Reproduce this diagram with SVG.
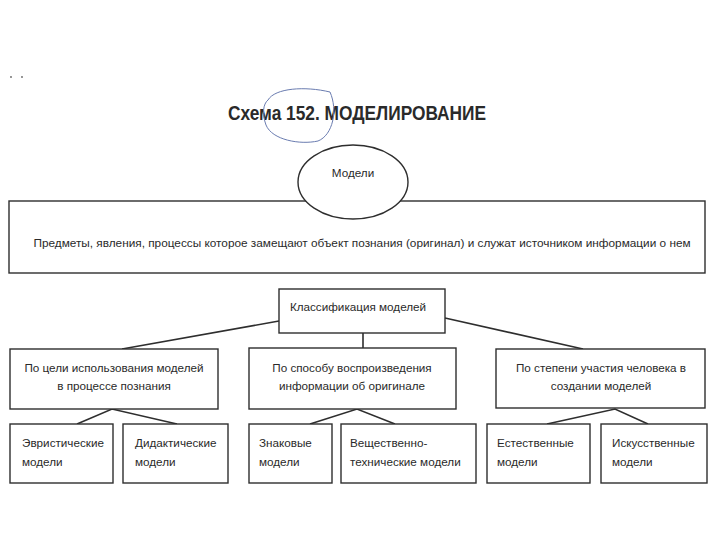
<svg xmlns="http://www.w3.org/2000/svg" width="720" height="540" viewBox="0 0 720 540">
  <style>
    .box { fill: #ffffff; stroke: #2e2e2e; stroke-width: 1.4; }
    .ell { fill: #ffffff; stroke: #2e2e2e; stroke-width: 1.4; }
    .t { font-family: "Liberation Sans", Arial, sans-serif; font-size: 11.7px; fill: #2a2a2a; }
    .c { text-anchor: middle; }
    .title { font-family: "Liberation Sans", Arial, sans-serif; font-size: 20px; font-weight: bold; fill: #2a2a2a; text-anchor: middle; }
    .conn { fill: none; stroke: #2e2e2e; stroke-width: 1.6; }
  </style>
  <rect width="720" height="540" fill="#ffffff"/>

  <g id="marks">
    <circle cx="11" cy="77" r="0.9" fill="#666"/>
    <circle cx="22" cy="77" r="0.9" fill="#666"/>
  </g>

  <g id="title">
    <text class="title" x="357" y="120" textLength="258" lengthAdjust="spacingAndGlyphs">Схема 152. МОДЕЛИРОВАНИЕ</text>
    <path d="M268 100 C275 88 305 86 330 92 C338 110 333 135 318 141 C300 145 272 140 266 125 C262 114 263 104 268 100" fill="none" stroke="#6a7cb0" stroke-width="1"/>
  </g>

  <g id="connectors">
    <line class="conn" x1="279" y1="321" x2="122" y2="349"/>
    <line class="conn" x1="363" y1="333" x2="363" y2="348"/>
    <line class="conn" x1="445" y1="318" x2="583" y2="349"/>
    <polyline class="conn" points="77,424 112,409 177,424"/>
    <polyline class="conn" points="310,424 357,409 395,424"/>
    <polyline class="conn" points="547,424 615,409 648,424"/>
  </g>

  <g id="definition">
    <rect class="box" x="9" y="201" width="696" height="72"/>
    <text class="t c" x="362" y="247" style="font-size:11.8px">Предметы, явления, процессы которое замещают объект познания (оригинал) и служат источником информации о нем</text>
  </g>

  <g id="models">
    <ellipse class="ell" cx="353" cy="182" rx="55" ry="37"/>
    <text class="t c" x="353" y="177">Модели</text>
  </g>

  <g id="classification">
    <rect class="box" x="279" y="289" width="166" height="44"/>
    <text class="t c" x="358" y="311">Классификация моделей</text>
  </g>

  <g id="by-purpose">
    <rect class="box" x="10" y="349" width="208" height="60"/>
    <text class="t c" x="114" y="372">По цели использования моделей</text>
    <text class="t c" x="114" y="390">в процессе познания</text>
  </g>

  <g id="by-method">
    <rect class="box" x="249" y="348" width="207" height="61"/>
    <text class="t c" x="352" y="372">По способу воспроизведения</text>
    <text class="t c" x="352" y="390">информации об оригинале</text>
  </g>

  <g id="by-human">
    <rect class="box" x="496" y="349" width="209" height="59"/>
    <text class="t c" x="601" y="372">По степени участия человека в</text>
    <text class="t c" x="601" y="390">создании моделей</text>
  </g>

  <g id="heuristic">
    <rect class="box" x="10" y="424" width="103" height="59"/>
    <text class="t" x="22" y="447">Эвристические</text>
    <text class="t" x="22" y="466">модели</text>
  </g>

  <g id="didactic">
    <rect class="box" x="123" y="424" width="105" height="59"/>
    <text class="t" x="135" y="447">Дидактические</text>
    <text class="t" x="135" y="466">модели</text>
  </g>

  <g id="sign">
    <rect class="box" x="249" y="424" width="83" height="59"/>
    <text class="t" x="259" y="447">Знаковые</text>
    <text class="t" x="259" y="466">модели</text>
  </g>

  <g id="material">
    <rect class="box" x="341" y="424" width="135" height="59"/>
    <text class="t" x="350" y="447">Вещественно-</text>
    <text class="t" x="350" y="466">технические модели</text>
  </g>

  <g id="natural">
    <rect class="box" x="487" y="424" width="103" height="59"/>
    <text class="t" x="497" y="447">Естественные</text>
    <text class="t" x="497" y="466">модели</text>
  </g>

  <g id="artificial">
    <rect class="box" x="601" y="424" width="106" height="59"/>
    <text class="t" x="612" y="447">Искусственные</text>
    <text class="t" x="612" y="466">модели</text>
  </g>
</svg>
